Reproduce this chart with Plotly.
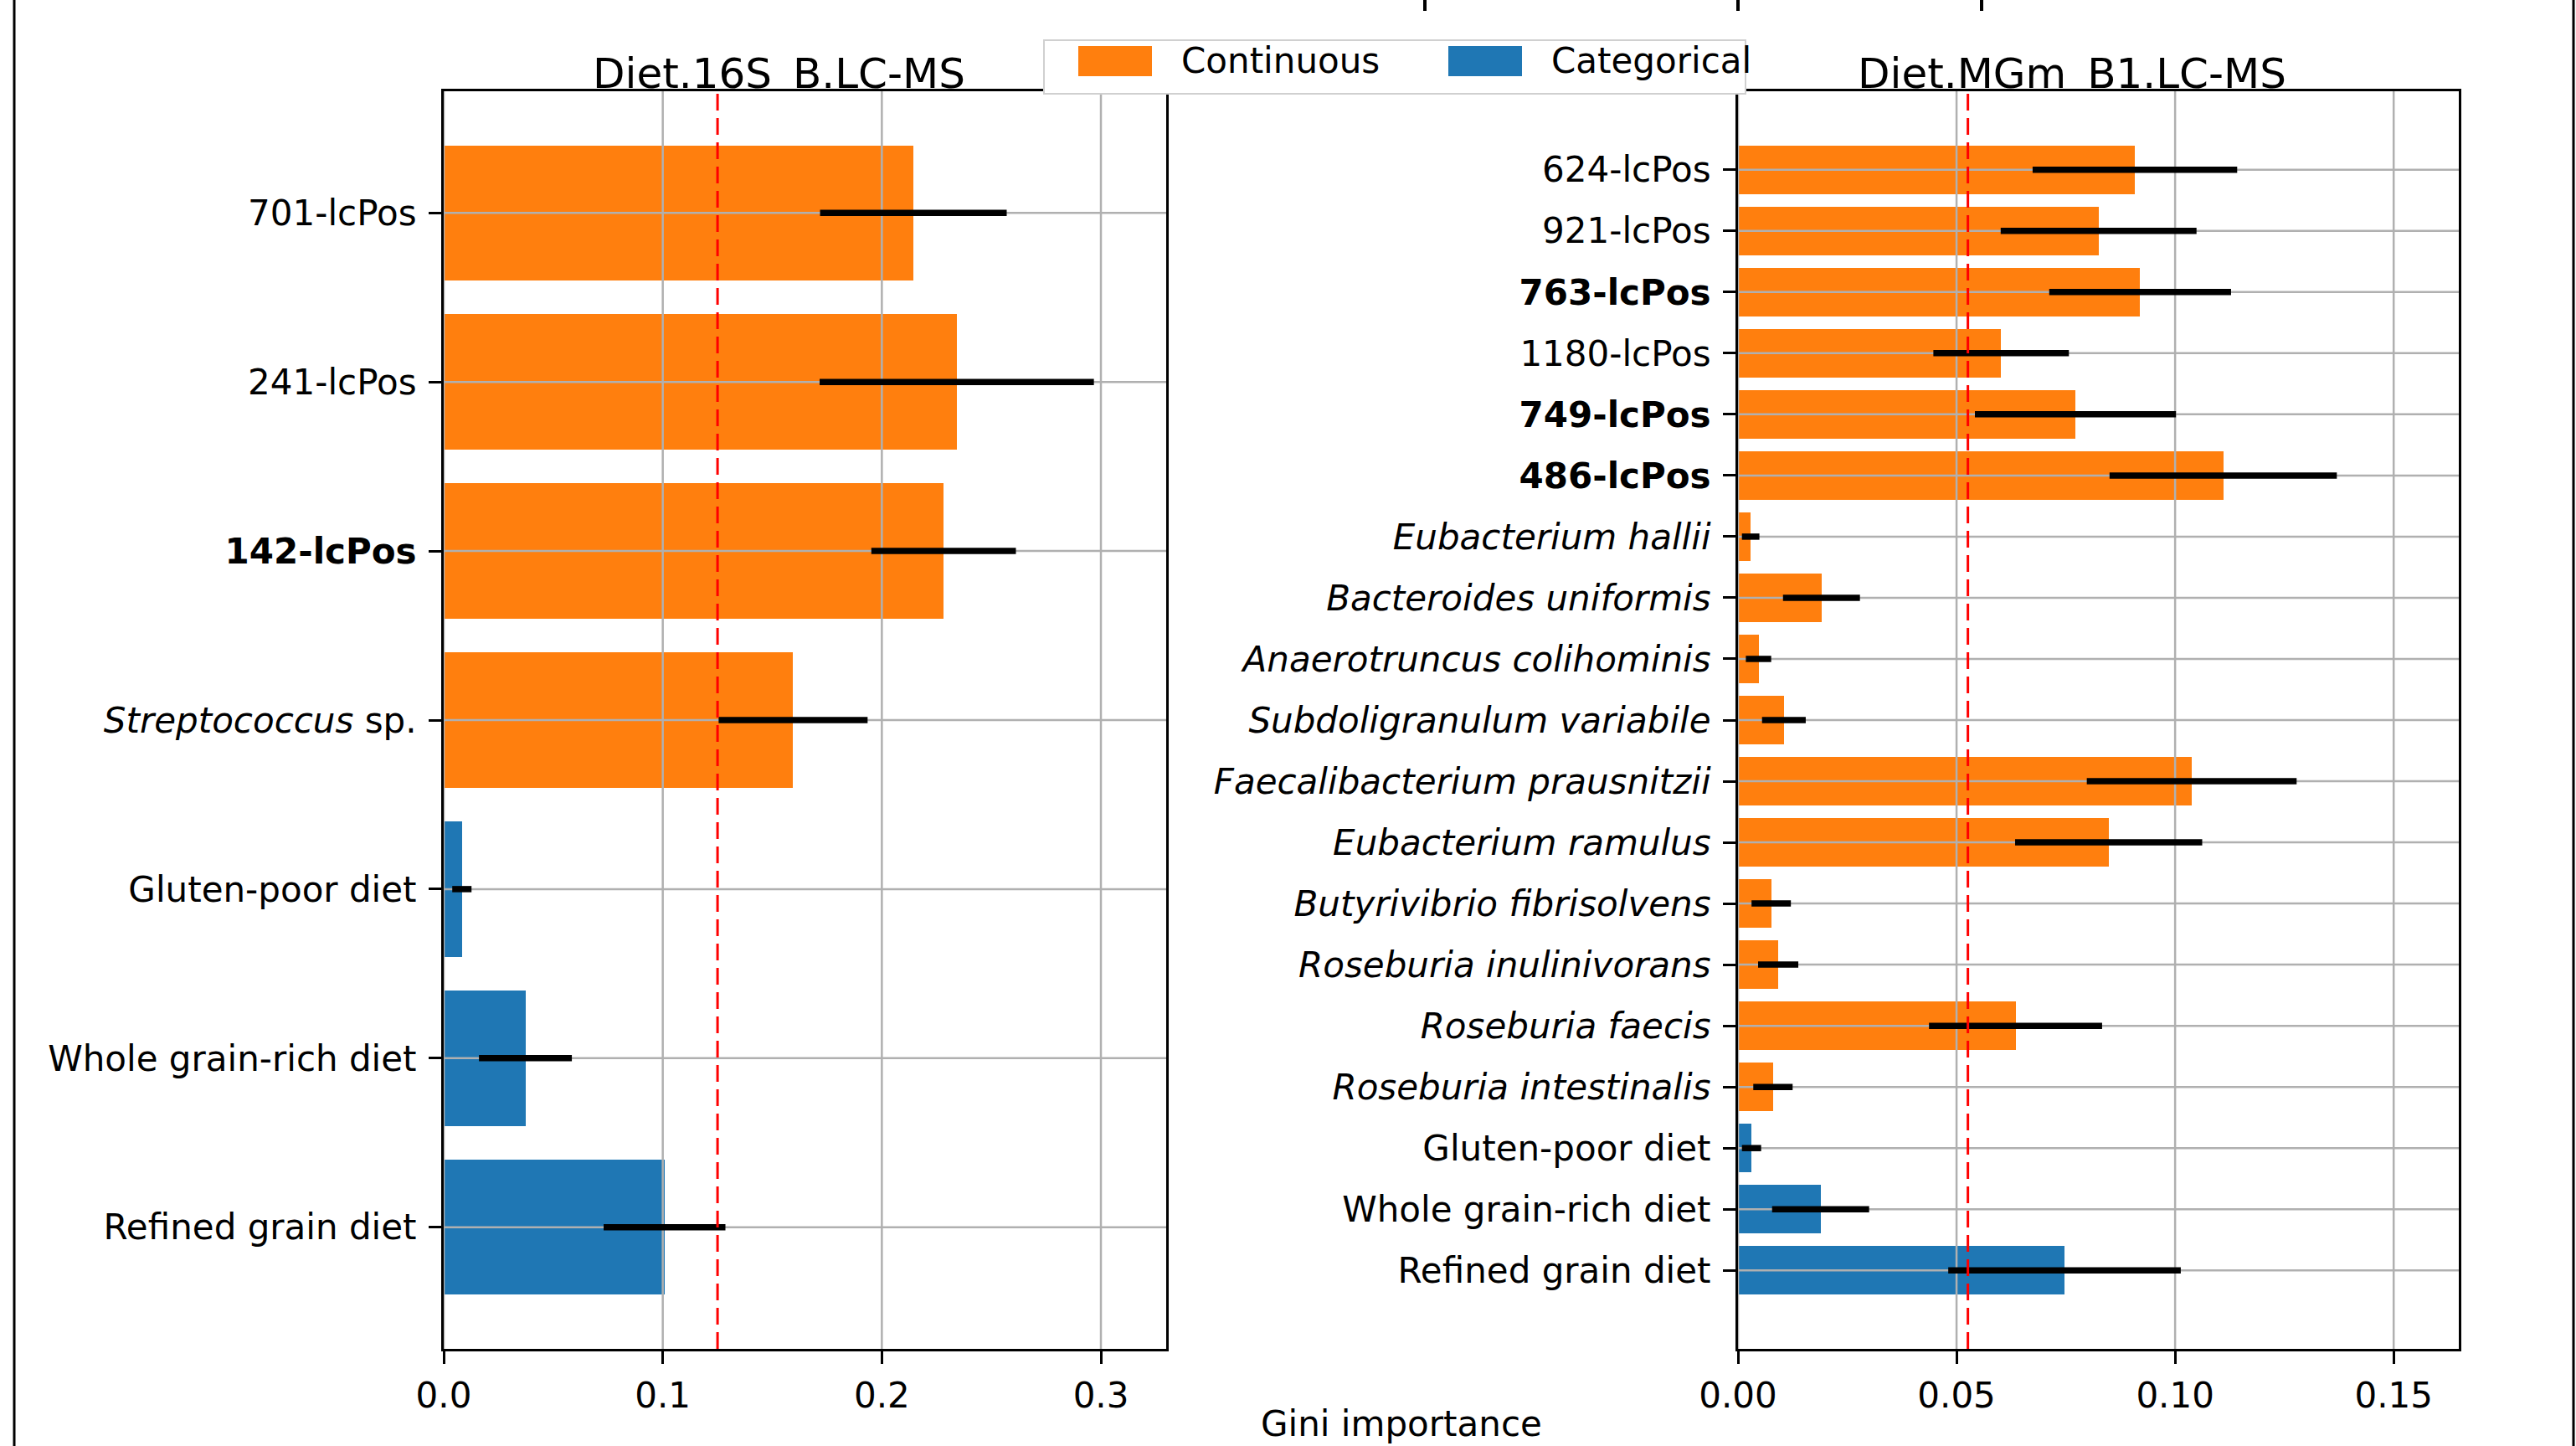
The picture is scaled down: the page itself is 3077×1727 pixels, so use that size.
import plotly.graph_objects as go

# ---------------- data ----------------
left_labels = ["701-lcPos", "241-lcPos", "<b>142-lcPos</b>", "<i>Streptococcus</i> sp.",
               "Gluten-poor diet", "Whole grain-rich diet", "Refined grain diet"]
left_values = [0.2144, 0.2342, 0.2282, 0.1595, 0.0083, 0.0373, 0.1008]
left_errors = [0.0426, 0.0626, 0.0330, 0.0340, 0.0044, 0.0212, 0.0278]
left_types = ["Continuous"] * 4 + ["Categorical"] * 3
left_threshold = 0.125
left_title = "Diet.16S\u2002B.LC-MS"
left_xticks = [0.0, 0.1, 0.2, 0.3]

right_labels = ["624-lcPos", "921-lcPos", "<b>763-lcPos</b>", "1180-lcPos", "<b>749-lcPos</b>",
                "<b>486-lcPos</b>", "<i>Eubacterium hallii</i>", "<i>Bacteroides uniformis</i>",
                "<i>Anaerotruncus colihominis</i>", "<i>Subdoligranulum variabile</i>",
                "<i>Faecalibacterium prausnitzii</i>", "<i>Eubacterium ramulus</i>",
                "<i>Butyrivibrio fibrisolvens</i>", "<i>Roseburia inulinivorans</i>",
                "<i>Roseburia faecis</i>", "<i>Roseburia intestinalis</i>",
                "Gluten-poor diet", "Whole grain-rich diet", "Refined grain diet"]
right_values = [0.0908, 0.0825, 0.0920, 0.0602, 0.0772, 0.1110, 0.0029, 0.0191, 0.0047,
                0.0105, 0.1038, 0.0848, 0.0076, 0.0092, 0.0635, 0.0080, 0.0031, 0.0189, 0.0747]
right_errors = [0.0234, 0.0224, 0.0208, 0.0155, 0.0230, 0.0260, 0.0020, 0.0088, 0.0029,
                0.0050, 0.0240, 0.0214, 0.0045, 0.0046, 0.0198, 0.0045, 0.0022, 0.0111, 0.0266]
right_types = ["Continuous"] * 16 + ["Categorical"] * 3
right_threshold = 0.0526
right_title = "Diet.MGm\u2002B1.LC-MS"
right_xticks = [0.00, 0.05, 0.10, 0.15]

type_colors = {"Continuous": "#ff7f0e", "Categorical": "#1f77b4"}
x_label = "Gini importance"

# ---------------- geometry ----------------
W, H = 3077, 1727
FONT = "DejaVu Sans"
def px(x):
    return x / W
def py(y):
    return 1 - y / H

panels = [
    dict(labels=left_labels, values=left_values, errors=left_errors, types=left_types,
         thr=left_threshold, title=left_title, ticks=left_xticks, xmax=0.3298, fmt=".1f",
         dom=(px(530), px(1393)), title_x=930, ax="x", ay="y"),
    dict(labels=right_labels, values=right_values, errors=right_errors, types=right_types,
         thr=right_threshold, title=right_title, ticks=right_xticks, xmax=0.1649, fmt=".2f",
         dom=(px(2076), px(2937)), title_x=2475, ax="x2", ay="y2"),
]
ydom = (py(1611), py(109))

fig = go.Figure()
annotations = []
shapes = []
layout = {}

for k, p in enumerate(panels):
    n = len(p["labels"])
    idx = list(range(n))
    yrange = [n - 1 + 0.4 + 0.047 * (n - 1 + 0.8), -0.4 - 0.047 * (n - 1 + 0.8)]
    # bars by type
    for t in ["Continuous", "Categorical"]:
        ys = [i for i in idx if p["types"][i] == t]
        fig.add_trace(go.Bar(
            x=[p["values"][i] for i in ys], y=ys, orientation="h", width=0.8,
            marker=dict(color=type_colors[t], line=dict(width=0)),
            name=t, showlegend=False, xaxis=p["ax"], yaxis=p["ay"]))
    # grid lines over bars
    gx, gy = [], []
    for v in p["ticks"]:
        gx += [v, v, None]
        gy += [yrange[0], yrange[1], None]
    for i in idx:
        gx += [0, p["xmax"], None]
        gy += [i, i, None]
    fig.add_trace(go.Scatter(x=gx, y=gy, mode="lines", line=dict(color="#b0b0b0", width=2.5),
                             showlegend=False, hoverinfo="skip", xaxis=p["ax"], yaxis=p["ay"]))
    # error bars
    fig.add_trace(go.Scatter(
        x=p["values"], y=idx, mode="markers", marker=dict(size=1, color="rgba(0,0,0,0)"),
        error_x=dict(type="data", array=p["errors"], symmetric=True, color="black",
                     thickness=7.5, width=0),
        showlegend=False, xaxis=p["ax"], yaxis=p["ay"]))
    # threshold line
    fig.add_trace(go.Scatter(x=[p["thr"], p["thr"]], y=yrange, mode="lines",
                             line=dict(color="red", width=3, dash="20px,9px"),
                             showlegend=False, hoverinfo="skip", xaxis=p["ax"], yaxis=p["ay"]))
    xk = "xaxis" if k == 0 else "xaxis2"
    yk = "yaxis" if k == 0 else "yaxis2"
    layout[xk] = dict(domain=list(p["dom"]), range=[0, p["xmax"]], anchor=p["ay"],
                      tickvals=p["ticks"], tickformat=p["fmt"], ticks="outside", ticklen=15,
                      tickwidth=2.5, tickcolor="black", showgrid=False, zeroline=False,
                      showline=True, linecolor="black", linewidth=3, mirror=True,
                      automargin=False,
                      tickfont=dict(family=FONT, size=42, color="black"),
                      ticklabelstandoff=2)
    layout[yk] = dict(domain=list(ydom), range=yrange, anchor=p["ax"],
                      tickvals=idx, ticktext=p["labels"], ticks="outside", ticklen=15,
                      tickwidth=2.5, tickcolor="black", showgrid=False, zeroline=False,
                      showline=True, linecolor="black", linewidth=3, mirror=True,
                      automargin=False,
                      tickfont=dict(family=FONT, size=42, color="black"),
                      ticklabelstandoff=6)
    annotations.append(dict(text=p["title"], x=px(p["title_x"]), y=py(119), xref="paper",
                            yref="paper", xanchor="center", yanchor="bottom", showarrow=False,
                            font=dict(family=FONT, size=50, color="black")))

# legend (drawn manually to reproduce the large matplotlib patches)
shapes.append(dict(type="rect", xref="paper", yref="paper", x0=px(1247), x1=px(2085),
                   y0=py(112), y1=py(48), fillcolor="white",
                   line=dict(color="#d0d0d0", width=2), layer="above"))
legend_items = [("Continuous", 1288, 1409), ("Categorical", 1730, 1851)]
for name, x0, tx in legend_items:
    shapes.append(dict(type="rect", xref="paper", yref="paper", x0=px(x0), x1=px(x0 + 88),
                       y0=py(91), y1=py(55), fillcolor=type_colors[name],
                       line=dict(width=0), layer="above"))
    annotations.append(dict(text=name, x=px(tx), y=py(73), xref="paper", yref="paper",
                            xanchor="left", yanchor="middle", showarrow=False,
                            font=dict(family=FONT, size=42, color="black")))

# shared x label
annotations.append(dict(text=x_label, x=px(1674), y=py(1700), xref="paper", yref="paper",
                        xanchor="center", yanchor="middle", showarrow=False,
                        font=dict(family=FONT, size=42, color="black")))

# figure frame edges and clipped suptitle descenders
for xe in [17, 3074]:
    shapes.append(dict(type="line", xref="paper", yref="paper", x0=px(xe), x1=px(xe),
                       y0=0, y1=1, line=dict(color="black", width=3), layer="above"))
for xe in [1702, 2076, 2367]:
    shapes.append(dict(type="line", xref="paper", yref="paper", x0=px(xe), x1=px(xe),
                       y0=py(0), y1=py(13), line=dict(color="black", width=4), layer="above"))

fig.update_layout(
    width=W, height=H, margin=dict(l=0, r=0, t=0, b=0, autoexpand=False),
    paper_bgcolor="white", plot_bgcolor="white", showlegend=False,
    font=dict(family=FONT, size=42, color="black"),
    annotations=annotations, shapes=shapes, bargap=0, **layout)

fig.write_html("out.html", config={"displayModeBar": False},
               post_script="document.body.style.margin='0';document.body.style.overflow='hidden';")
